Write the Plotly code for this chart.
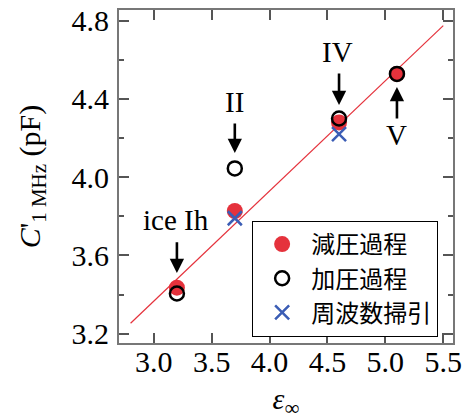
import plotly.graph_objects as go

# data
phases = ["ice Ih", "II", "IV", "V"]
eps_dec = [3.2, 3.7, 4.6, 5.1]
c_dec = [3.435, 3.827, 4.28, 4.528]
eps_inc = [3.2, 3.7, 4.6, 5.1]
c_inc = [3.405, 4.045, 4.30, 4.528]
eps_freq = [3.7, 4.6]
c_freq = [3.79, 4.22]
fit_x = [2.8, 5.5]
fit_y = [3.253, 4.775]

serif = "Liberation Serif"
cjk = "Noto Sans CJK JP"
red = "#e5323c"

fig = go.Figure()
fig.add_trace(go.Scatter(x=fit_x, y=fit_y, mode="lines",
                         line=dict(color=red, width=1.2), showlegend=False, hoverinfo="skip"))
fig.add_trace(go.Scatter(x=eps_dec, y=c_dec, mode="markers", name="減圧過程",
                         marker=dict(size=16, color=red, line=dict(width=0))))
fig.add_trace(go.Scatter(x=eps_inc, y=c_inc, mode="markers", name="加圧過程",
                         marker=dict(size=14, color="black", symbol="circle-open",
                                     line=dict(width=2.5, color="black"))))
fig.add_trace(go.Scatter(x=eps_freq, y=c_freq, mode="markers", name="周波数掃引",
                         marker=dict(size=14, symbol="x-thin-open",
                                     line=dict(width=2.5, color="#3b5db5"), color="#3b5db5")))

# labels and arrows
labels = [
    dict(text="ice Ih", x=3.19, y=3.78),
    dict(text="II", x=3.7, y=4.384),
    dict(text="IV", x=4.59, y=4.64),
    dict(text="V", x=5.1, y=4.216),
]
for lb in labels:
    fig.add_annotation(x=lb["x"], y=lb["y"], text=lb["text"], showarrow=False,
                       font=dict(family=serif, size=29, color="black"))

arrows = [
    (3.2, 3.51, 3.2, 3.675),
    (3.7, 4.124, 3.7, 4.282),
    (4.6, 4.369, 4.6, 4.538),
    (5.1, 4.461, 5.1, 4.293),
]
for (x, y, ax, ay) in arrows:
    fig.add_annotation(x=x, y=y, ax=ax, ay=ay, xref="x", yref="y", axref="x", ayref="y",
                       text="", showarrow=True, arrowhead=2, arrowsize=1.1,
                       arrowwidth=2.6, arrowcolor="black", standoff=0)

fig.update_layout(
    width=463, height=420,
    margin=dict(l=119, r=10, t=10, b=77),
    paper_bgcolor="white", plot_bgcolor="white",
    font=dict(family=serif, size=29, color="black"),
    showlegend=True,
    legend=dict(x=0.398, y=0.367, xanchor="left", yanchor="top",
                bgcolor="white", bordercolor="black", borderwidth=1.2,
                font=dict(family=cjk, size=24, color="black"),
                itemwidth=48, tracegroupgap=0),
    xaxis=dict(range=[2.7, 5.584], tickvals=[3.0, 3.5, 4.0, 4.5, 5.0, 5.5],
               ticktext=["3.0", "3.5", "4.0", "4.5", "5.0", "5.5"],
               ticks="inside", ticklen=10, tickwidth=1.5, tickcolor="#555",
               showline=True, linecolor="#777", linewidth=2, mirror="ticks",
               showgrid=False, zeroline=False, ticklabelstandoff=-9, automargin=False,
               tickfont=dict(family=serif, size=30),
               title=dict(text="<i>ε</i><sub>∞</sub>", font=dict(family=serif, size=30), standoff=30)),
    yaxis=dict(range=[3.152, 4.855], tickvals=[3.2, 3.6, 4.0, 4.4, 4.8],
               ticktext=["3.2", "3.6", "4.0", "4.4", "4.8"],
               ticks="inside", ticklen=10, tickwidth=1.5, tickcolor="#555",
               minor=dict(tickvals=[3.4, 3.8, 4.2, 4.6], ticks="inside", ticklen=5, tickwidth=1.5, tickcolor="#555"),
               showline=True, linecolor="#777", linewidth=2, mirror="ticks",
               showgrid=False, zeroline=False, ticklabelstandoff=2, automargin=False,
               tickfont=dict(family=serif, size=30),
               title=dict(text="<i>C</i>'<sub>1 MHz</sub> (pF)", font=dict(family=serif, size=30), standoff=22)),
)

fig.write_html("out.html")
